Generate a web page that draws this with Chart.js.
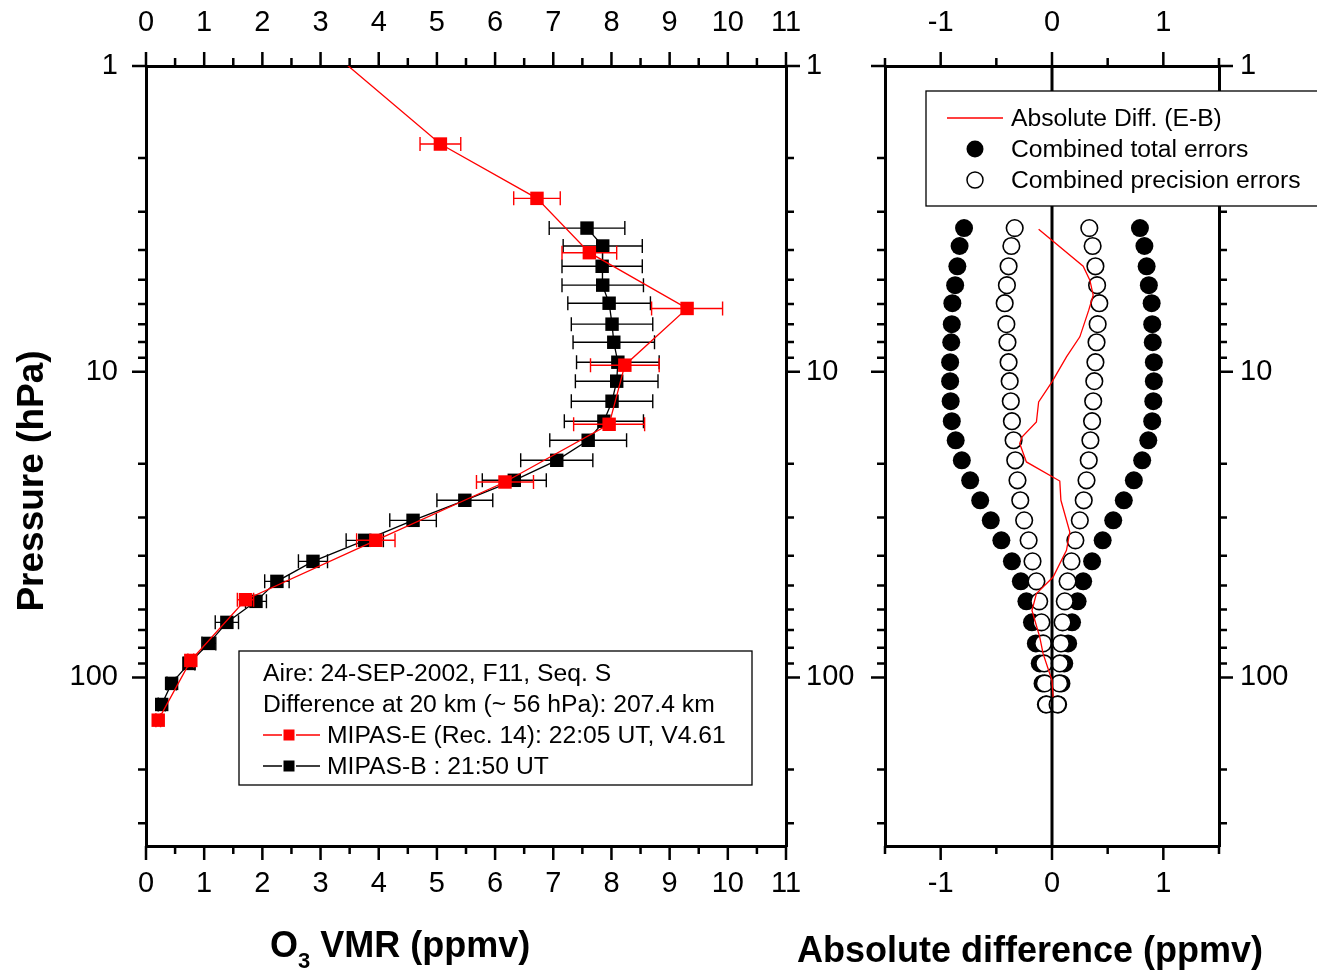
<!DOCTYPE html>
<html>
<head>
<meta charset="utf-8">
<script src="https://cdn.jsdelivr.net/npm/chart.js@4.4.1/dist/chart.umd.min.js"></script>
<style>
    html, body { margin: 0; padding: 0; background: #fff; }
    #wrap { position: relative; width: 1317px; height: 971px; overflow: hidden; background: #fff; }
    canvas { position: absolute; top: 0; }
    #profile { left: 0; }
    #difference { left: 780px; }
</style>
</head>
<body>
<div id="wrap">
    <canvas id="profile" width="870" height="971"></canvas>
    <canvas id="difference" width="537" height="971"></canvas>
</div>
<script>
// Tick values
const vmrTicks = [0, 1, 2, 3, 4, 5, 6, 7, 8, 9, 10, 11];
const diffTicks = [-1, 0, 1];
const pressureTicks = [1, 10, 100];
const pressureMinor = [2, 3, 4, 5, 6, 7, 8, 9, 20, 30, 40, 50, 60, 70, 80, 90, 200, 300];

// MIPAS-B (balloon), hPa / ppmv
const mipasBPressure = [3.39, 3.88, 4.52, 5.21, 5.97, 6.99, 8.01, 9.31, 10.74, 12.49, 14.52, 16.76, 19.49,
    22.66, 26.34, 30.63, 35.61, 41.72, 48.51, 56.39, 66.06, 77.4, 90.0, 104.6, 122.6];
const mipasBVmr = [7.58, 7.85, 7.84, 7.85, 7.96, 8.01, 8.04, 8.11, 8.09, 8.01, 7.87, 7.60, 7.06,
    6.33, 5.48, 4.59, 3.76, 2.87, 2.25, 1.89, 1.39, 1.08, 0.74, 0.44, 0.27];
const mipasBErr = [0.65, 0.68, 0.69, 0.70, 0.71, 0.70, 0.70, 0.71, 0.71, 0.70, 0.68, 0.66, 0.62,
    0.55, 0.48, 0.40, 0.32, 0.25, 0.21, 0.18, 0.2, 0.12, 0.1, 0.08, 0.06];

// MIPAS-E (Envisat)
const mipasEPressure = [0.86, 1.80, 2.71, 4.08, 6.21, 9.52, 14.86, 22.95, 35.6, 55.7, 88.0, 138];
const mipasEVmr = [3.07, 5.06, 6.72, 7.62, 9.30, 8.23, 7.96, 6.17, 3.95, 1.71, 0.77, 0.21];
const mipasEErr = [0.3, 0.35, 0.40, 0.47, 0.61, 0.59, 0.61, 0.49, 0.33, 0.14, 0.05, 0.04];

// Absolute difference E-B
const diffPressure = [3.42, 4.52, 5.02, 5.62, 6.29, 7.69, 8.94, 10.8, 12.56, 14.6, 16.35, 17.18,
    19.73, 22.78, 26.34, 33.45, 38.4, 46.95, 53.2, 60.4, 73.8, 83.6, 102.3, 116];
const diffValue = [-0.12, 0.28, 0.34, 0.37, 0.33, 0.25, 0.13, 0.0, -0.12, -0.14, -0.27, -0.29,
    -0.23, 0.07, 0.08, 0.16, 0.13, 0.01, -0.14, -0.18, -0.11, -0.08, 0.0, 0.01];

// Combined errors, on the MIPAS-B levels
const totalErr = [0.79, 0.83, 0.85, 0.87, 0.895, 0.90, 0.905, 0.915, 0.915, 0.91, 0.90, 0.865, 0.81,
    0.735, 0.645, 0.55, 0.455, 0.36, 0.28, 0.23, 0.18, 0.145, 0.11, 0.085, 0.055];
const precisionErr = [0.335, 0.365, 0.39, 0.405, 0.425, 0.41, 0.40, 0.39, 0.38, 0.37, 0.36, 0.345, 0.33,
    0.31, 0.285, 0.25, 0.21, 0.175, 0.14, 0.115, 0.095, 0.08, 0.07, 0.065, 0.05];

const FONT = "'Liberation Sans', Arial, Helvetica, sans-serif";

document.addEventListener("DOMContentLoaded", function() {
    Chart.defaults.font.family = FONT;
    Chart.defaults.color = "#000";

    function halfSteps(list) {
        let out = [];
        for (let i = 0; i < list.length - 1; i++) out.push((list[i] + list[i + 1]) / 2);
        return out;
    }

    function linearAxis(position, min, max, values, padding, size) {
        return {
            type: "linear", position: position, min: min, max: max,
            grid: { display: false, drawTicks: false },
            border: { display: true, color: "#000", width: 3 },
            afterBuildTicks: s => { s.ticks = values.map(v => ({ value: v })); },
            ticks: { padding: padding, color: "#000", font: { size: 29 }, autoSkip: false, maxRotation: 0,
                callback: v => String(v) },
            afterFit: s => { s.height = size; }
        };
    }

    function pressureAxis(position, padding, size) {
        return {
            type: "logarithmic", position: position, min: 1, max: 356, reverse: true,
            grid: { display: false, drawTicks: false },
            border: { display: true, color: "#000", width: 3 },
            afterBuildTicks: s => { s.ticks = pressureTicks.map(v => ({ value: v })); },
            ticks: { display: padding !== null, padding: padding || 0, color: "#000", font: { size: 29 },
                autoSkip: false, callback: v => String(v) },
            afterFit: s => { s.width = size; }
        };
    }

    // tick marks pointing outwards, minor ticks shorter
    function drawTickMarks(chart, opts) {
        const ctx = chart.ctx, a = chart.chartArea;
        const xs = chart.scales.x, ys = chart.scales.y;
        ctx.save();
        ctx.strokeStyle = "#000";
        ctx.lineWidth = 2.5;
        ctx.beginPath();
        const xMark = (v, len) => {
            const px = xs.getPixelForValue(v);
            ctx.moveTo(px, a.top); ctx.lineTo(px, a.top - len);
            ctx.moveTo(px, a.bottom); ctx.lineTo(px, a.bottom + len);
        };
        const yMark = (v, len) => {
            const py = ys.getPixelForValue(v);
            ctx.moveTo(a.left, py); ctx.lineTo(a.left - len, py);
            ctx.moveTo(a.right, py); ctx.lineTo(a.right + len, py);
        };
        opts.xMajor.forEach(v => xMark(v, 14));
        opts.xMinor.forEach(v => xMark(v, 8));
        pressureTicks.forEach(v => yMark(v, 14));
        pressureMinor.forEach(v => yMark(v, 8));
        ctx.stroke();
        ctx.restore();
    }

    function drawSymbol(ctx, kind, color, x, y) {
        ctx.save();
        ctx.strokeStyle = color;
        ctx.fillStyle = color;
        ctx.lineWidth = 1.3;
        if (kind === "lineRect") {
            ctx.beginPath();
            ctx.moveTo(x - 26, y); ctx.lineTo(x - 7, y);
            ctx.moveTo(x + 7, y); ctx.lineTo(x + 31, y);
            ctx.stroke();
            ctx.fillRect(x - 5.5, y - 5.5, 11, 11);
        } else if (kind === "line") {
            ctx.beginPath();
            ctx.moveTo(x - 28, y); ctx.lineTo(x + 28, y);
            ctx.stroke();
        } else if (kind === "dot") {
            ctx.beginPath();
            ctx.arc(x, y, 8.5, 0, Math.PI * 2);
            ctx.fill();
        } else if (kind === "ring") {
            ctx.beginPath();
            ctx.arc(x, y, 8, 0, Math.PI * 2);
            ctx.fillStyle = "#fff";
            ctx.fill();
            ctx.strokeStyle = "#000";
            ctx.lineWidth = 1.5;
            ctx.stroke();
        }
        ctx.restore();
    }

    function drawLegend(ctx, lg) {
        ctx.save();
        ctx.fillStyle = "#fff";
        ctx.fillRect(lg.x, lg.y, lg.w, lg.h);
        ctx.strokeStyle = "#000";
        ctx.lineWidth = 1.3;
        ctx.strokeRect(lg.x, lg.y, lg.w, lg.h);
        ctx.font = "24.7px " + FONT;
        ctx.textBaseline = "middle";
        lg.rows.forEach(r => {
            if (r.symbol) drawSymbol(ctx, r.symbol, r.color, r.sx, r.y);
            ctx.fillStyle = "#000";
            ctx.fillText(r.text, r.x, r.y + 1);
        });
        ctx.restore();
    }

    function drawTitle(ctx, t) {
        ctx.save();
        ctx.translate(t.x, t.y);
        if (t.rotate) ctx.rotate(-Math.PI / 2);
        ctx.textAlign = t.align || "left";
        ctx.textBaseline = "alphabetic";
        ctx.fillStyle = "#000";
        let x = 0;
        t.parts.forEach(p => {
            ctx.font = "bold " + (p.sub ? 22 : t.size) + "px " + FONT;
            ctx.fillText(p.text, x, p.sub ? 11 : 0);
            x += ctx.measureText(p.text).width;
        });
        ctx.restore();
    }

    const decor = {
        id: "decor",
        beforeDatasetDraw(chart, args) {
            const ds = chart.data.datasets[args.index];
            if (!ds.errX) return;
            const ctx = chart.ctx, a = chart.chartArea;
            const xs = chart.scales.x, ys = chart.scales.y;
            ctx.save();
            ctx.beginPath();
            ctx.rect(a.left, a.top, a.right - a.left, a.bottom - a.top);
            ctx.clip();
            ctx.strokeStyle = ds.borderColor;
            ctx.lineWidth = 1.4;
            ctx.beginPath();
            ds.data.forEach((pt, i) => {
                const y = ys.getPixelForValue(pt.y);
                const x0 = xs.getPixelForValue(pt.x - ds.errX[i]);
                const x1 = xs.getPixelForValue(pt.x + ds.errX[i]);
                ctx.moveTo(x0, y); ctx.lineTo(x1, y);
                ctx.moveTo(x0, y - 7); ctx.lineTo(x0, y + 7);
                ctx.moveTo(x1, y - 7); ctx.lineTo(x1, y + 7);
            });
            ctx.stroke();
            ctx.restore();
        },
        afterDraw(chart, args, opts) {
            drawTickMarks(chart, opts);
            if (opts.legend) drawLegend(chart.ctx, opts.legend);
            (opts.titles || []).forEach(t => drawTitle(chart.ctx, t));
        }
    };

    // Left panel: O3 profiles
    new Chart(document.getElementById("profile"), {
        type: "scatter",
        data: {
            datasets: [
                {
                    label: "MIPAS-E (Rec. 14): 22:05 UT, V4.61",
                    data: mipasEPressure.map((p, i) => ({ x: mipasEVmr[i], y: p })),
                    errX: mipasEErr,
                    showLine: true,
                    borderColor: "#ff0000",
                    borderWidth: 1.3,
                    pointStyle: "rect",
                    pointRadius: 9.5,
                    pointBackgroundColor: "#ff0000",
                    pointBorderWidth: 0,
                    clip: 0
                },
                {
                    label: "MIPAS-B : 21:50 UT",
                    data: mipasBPressure.map((p, i) => ({ x: mipasBVmr[i], y: p })),
                    errX: mipasBErr,
                    showLine: true,
                    borderColor: "#000000",
                    borderWidth: 1.3,
                    pointStyle: "rect",
                    pointRadius: 9.5,
                    pointBackgroundColor: "#000000",
                    pointBorderWidth: 0
                }
            ]
        },
        options: {
            responsive: false,
            animation: false,
            events: [],
            layout: { padding: 0 },
            scales: {
                x: linearAxis("bottom", 0, 11, vmrTicks, 21, 125),
                xTop: linearAxis("top", 0, 11, vmrTicks, 26, 66),
                y: pressureAxis("left", 28, 146),
                yRight: pressureAxis("right", 20, 84)
            },
            plugins: {
                legend: { display: false },
                tooltip: { enabled: false },
                decor: {
                    xMajor: vmrTicks,
                    xMinor: halfSteps(vmrTicks),
                    legend: {
                        x: 239, y: 651, w: 513, h: 134,
                        rows: [
                            { text: "Aire: 24-SEP-2002, F11, Seq. S", x: 263, y: 673 },
                            { text: "Difference at 20 km (~ 56 hPa): 207.4 km", x: 263, y: 704 },
                            { text: "MIPAS-E (Rec. 14): 22:05 UT, V4.61", x: 327, y: 735, symbol: "lineRect", color: "#ff0000", sx: 289 },
                            { text: "MIPAS-B : 21:50 UT", x: 327, y: 766, symbol: "lineRect", color: "#000000", sx: 289 }
                        ]
                    },
                    titles: [
                        { parts: [{ text: "Pressure (hPa)" }], x: 43, y: 481, size: 37, rotate: true, align: "center" },
                        { parts: [{ text: "O" }, { text: "3", sub: true }, { text: " VMR (ppmv)" }], x: 270, y: 957, size: 36 }
                    ]
                }
            }
        },
        plugins: [decor]
    });

    // Right panel: absolute difference and combined errors
    const mirrored = errs => mipasBPressure.map((p, i) => ({ x: -errs[i], y: p }))
        .concat(mipasBPressure.map((p, i) => ({ x: errs[i], y: p })));

    new Chart(document.getElementById("difference"), {
        type: "scatter",
        data: {
            datasets: [
                {
                    label: "Absolute Diff. (E-B)",
                    data: diffPressure.map((p, i) => ({ x: diffValue[i], y: p })),
                    showLine: true,
                    borderColor: "#ff0000",
                    borderWidth: 1.3,
                    pointRadius: 0
                },
                {
                    label: "zero",
                    data: [{ x: 0, y: 1 }, { x: 0, y: 356 }],
                    showLine: true,
                    borderColor: "#000000",
                    borderWidth: 3,
                    pointRadius: 0,
                    clip: 0
                },
                {
                    label: "Combined precision errors",
                    data: mirrored(precisionErr),
                    pointStyle: "circle",
                    pointRadius: 8.3,
                    pointBackgroundColor: "#ffffff",
                    pointBorderColor: "#000000",
                    pointBorderWidth: 1.6
                },
                {
                    label: "Combined total errors",
                    data: mirrored(totalErr),
                    pointStyle: "circle",
                    pointRadius: 9,
                    pointBackgroundColor: "#000000",
                    pointBorderWidth: 0
                }
            ]
        },
        options: {
            responsive: false,
            animation: false,
            events: [],
            layout: { padding: 0 },
            scales: {
                x: linearAxis("bottom", -1.5, 1.5, diffTicks, 21, 125),
                xTop: linearAxis("top", -1.5, 1.5, diffTicks, 26, 66),
                y: pressureAxis("left", null, 105),
                yRight: pressureAxis("right", 21, 98)
            },
            plugins: {
                legend: { display: false },
                tooltip: { enabled: false },
                decor: {
                    xMajor: diffTicks,
                    xMinor: [-1.5, -0.5, 0.5, 1.5],
                    legend: {
                        x: 146, y: 91, w: 420, h: 115,
                        rows: [
                            { text: "Absolute Diff. (E-B)", x: 231, y: 118, symbol: "line", color: "#ff0000", sx: 195 },
                            { text: "Combined total errors", x: 231, y: 149, symbol: "dot", color: "#000000", sx: 195 },
                            { text: "Combined precision errors", x: 231, y: 180, symbol: "ring", color: "#000000", sx: 195 }
                        ]
                    },
                    titles: [
                        { parts: [{ text: "Absolute difference (ppmv)" }], x: 17, y: 962, size: 36 }
                    ]
                }
            }
        },
        plugins: [decor]
    });
});
</script>
</body>
</html>
